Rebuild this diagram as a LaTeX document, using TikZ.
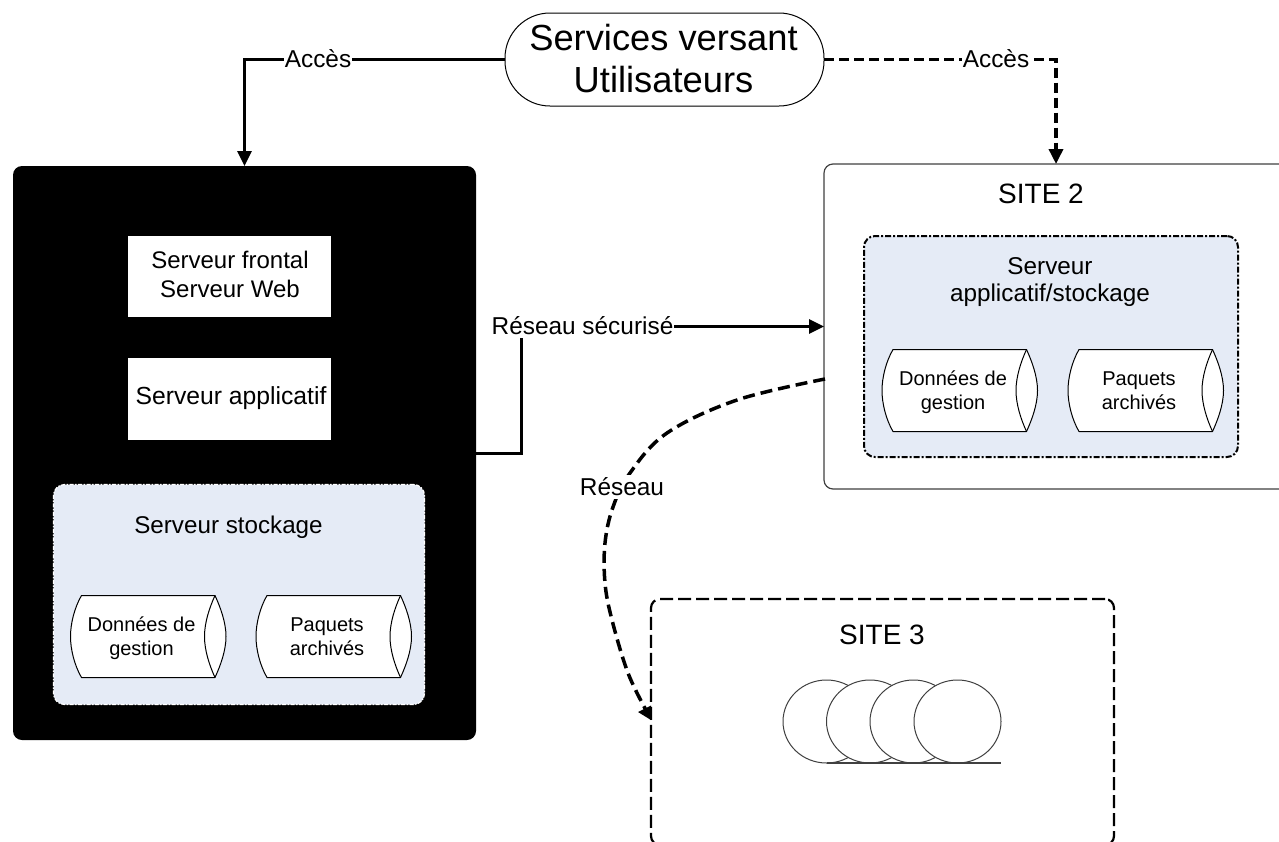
\documentclass[tikz,border=0pt]{standalone}
\usepackage{fontspec}
\setmainfont{Liberation Sans}
\usetikzlibrary{arrows.meta,shapes.geometric}
\definecolor{paleblue}{HTML}{E5EBF6}
\newcommand\fs[2]{\fontsize{#1}{#2}\selectfont}
\tikzset{
  plain/.style={inner sep=0pt,outer sep=0pt,align=center},
  labelnode/.style={plain,fill=white,font=\fs{24.4}{29},inner xsep=0.5pt,inner ysep=2.5pt},
  conn/.style={line width=3pt,-{Triangle[length=15pt,width=14pt]}},
  connd/.style={conn,line width=3.5pt,dash pattern=on 10pt off 5pt},
  sitebox/.style={plain,draw=black!75,line width=1.2pt,fill=white,rounded corners=9pt},
  innerbox/.style={plain,fill=paleblue,rounded corners=11pt},
  whitebox/.style={plain,fill=white},
  tapecircle/.style={draw=black!75,line width=1pt,fill=white,ellipse,minimum width=87pt,minimum height=83pt,inner sep=0pt,outer sep=0pt}
}
\newcommand\datacyl[4]{%
  \begin{scope}[shift={(#2,#3)}]
    \draw[black,line width=1pt,fill=white,line join=round]
      (11,0) .. controls (4,12) and (0,28) .. (0,41)
      .. controls (0,54) and (4,70) .. (11,82) -- (144.5,82)
      .. controls (150,70) and (155.5,55) .. (155.5,41)
      .. controls (155.5,27) and (150,12) .. (144.5,0) -- cycle;
    \draw[black,line width=1pt]
      (144.5,0) .. controls (139,12) and (134,27) .. (134,41)
      .. controls (134,55) and (139,70) .. (144.5,82);
    \node[plain,font=\fs{20}{24}] (#1) at (71,43) {#4\vphantom{g}};
  \end{scope}}
\begin{document}
\begin{tikzpicture}[x=1pt,y=-1pt]
\useasboundingbox (0,0) rectangle (1279,841);
\clip (0,0) rectangle (1279,841);

% Site boxes
\node[plain,fill=black,rounded corners=9pt,minimum width=463pt,minimum height=574pt] (site1) at (244.5,453) {};
\node[sitebox,minimum width=464pt,minimum height=325pt] (site2) at (1056,326.5) {};
\node[plain,draw=black,line width=2.2pt,dash pattern=on 13pt off 5pt,fill=white,rounded corners=9pt,minimum width=463pt,minimum height=246pt] (site3) at (882.5,722) {};

% Site 1 content
\node[whitebox,minimum width=203pt,minimum height=81pt] (frontbox) at (229.5,276.5) {};
\node[plain,font=\fs{24}{29}] (fronttext) at (230,274.5) {Serveur frontal\\Serveur Web};
\node[whitebox,minimum width=203pt,minimum height=82pt] (appbox) at (229.5,399) {};
\node[plain,font=\fs{24.7}{29}] (apptext) at (231,398) {Serveur applicatif};
\node[innerbox,draw=white,line width=1.2pt,dash pattern=on 4pt off 1.5pt on 1.5pt off 1.5pt,minimum width=371pt,minimum height=220pt] (store1) at (239,594.5) {};
\node[plain,font=\fs{24.2}{30}] (store1text) at (228.5,527) {Serveur stockage};
\datacyl{d1}{70.5}{595.5}{Données de\\gestion}
\datacyl{p1}{256}{595.5}{Paquets\\archivés}

% Site 2 content
\node[plain,font=\fs{28}{32}] (site2text) at (1041,194) {SITE 2};
\node[innerbox,draw=black,line width=2pt,dash pattern=on 6pt off 2pt on 2pt off 2pt,minimum width=374pt,minimum height=221pt] (store2) at (1051,346.5) {};
\node[plain,font=\fs{24.3}{27}] (store2text) at (1050,282.5) {Serveur\\applicatif/stockage};
\datacyl{d2}{882}{349.5}{Données de\\gestion}
\datacyl{p2}{1068}{349.5}{Paquets\\archivés}

% Site 3 content
\node[plain,font=\fs{28}{32}] (site3text) at (882,635) {SITE 3};
\node[tapecircle] (t1) at (826.5,721.5) {};
\node[tapecircle] (t2) at (870,721.5) {};
\node[tapecircle] (t3) at (913.5,721.5) {};
\node[tapecircle] (t4) at (957.5,721.5) {};
\draw[black!75,line width=1.2pt] (t2.south) ++(-43.5,0) coordinate (tapeA) -- (t4.south -| t4.east) coordinate (tapeB);

% Top terminator
\node[plain,draw=black,line width=1pt,fill=white,rounded corners=45pt,minimum width=319pt,minimum height=93pt] (services) at (664.5,59.5) {};
\node[plain,font=\fs{36.3}{42}] (servicestext) at (663.5,58.5) {Services versant\\Utilisateurs};

% Connectors
\draw[conn] (services.west) -| (site1.north);
\draw[connd] (services.east) -| (site2.north);
\coordinate (sbend) at (521,326.5);
\draw[conn] (site1.east) -| (sbend) -- (site2.west);
\coordinate (rstart) at (825,379);
\coordinate (rend) at (647,712);
\draw[line width=3.5pt,dash pattern=on 12pt off 6pt]
  plot[smooth,tension=0.6] coordinates {(rstart) (737,400) (667,433) (630,473) (613,507) (605,543) (605,583) (612,620) (628,673) (rend)};
\fill[black] (638,712) -- (651,705.5) -- (651,720) -- cycle;

% Labels
\node[labelnode] (acces1) at (318,59) {Accès};
\node[labelnode] (acces2) at (996,59) {Accès};
\node[labelnode] (rsec) at (582.5,326) {Réseau sécurisé};
\node[labelnode] (res) at (622,487) {Réseau};
\end{tikzpicture}
\end{document}
